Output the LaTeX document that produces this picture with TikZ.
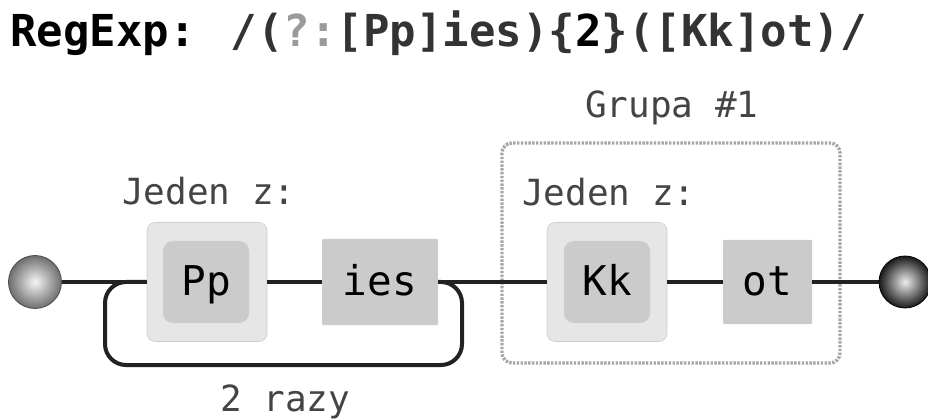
\documentclass[tikz,border=0pt]{standalone}
\usepackage{fontspec}
\newfontfamily\monofam{DejaVu Sans Mono}
\usetikzlibrary{shapes.geometric}
\definecolor{wire}{HTML}{222222}
\definecolor{labeltext}{HTML}{444444}
\definecolor{outerfill}{HTML}{E6E6E6}
\definecolor{innerfill}{HTML}{CBCBCB}
\definecolor{groupline}{HTML}{A6A6A6}
\definecolor{regdark}{HTML}{333333}
\definecolor{reglight}{HTML}{9A9A9A}
\definecolor{ballrim}{HTML}{6E6E6E}
\tikzset{
  wireline/.style={draw=wire, line width=4pt},
  outerbox/.style={rectangle, rounded corners=8pt, fill=outerfill, draw=outerfill!90!black, line width=0.6pt, minimum width=120pt, minimum height=119pt, inner sep=0pt},
  innerbox/.style={rectangle, rounded corners=10pt, fill=innerfill, minimum width=86pt, minimum height=82pt, inner sep=0pt, text height=28pt, text depth=0pt, font=\monofam\fontsize{41}{46}\selectfont, text=black},
  litbox/.style={rectangle, rounded corners=1pt, fill=innerfill, inner sep=0pt, text height=28pt, text depth=0pt, font=\monofam\fontsize{41}{46}\selectfont, text=black},
  labelnode/.style={anchor=base west, inner sep=0pt, font=\monofam\fontsize{36}{40}\selectfont, text=labeltext},
  ballstart/.style={circle, minimum size=53pt, inner sep=0pt, draw=gray!60!black, line width=0.8pt, inner color=gray!8, outer color=ballrim},
  ballend/.style={circle, minimum size=52pt, inner sep=0pt, draw=black, line width=0.8pt, inner color=gray!15, outer color=black!90},
}
\begin{document}
\begin{tikzpicture}[x=1pt, y=-1pt]
\useasboundingbox (0,0) rectangle (928,419);

% heading with the expression
\node[anchor=base west, inner sep=0pt, font=\monofam\bfseries\fontsize{44}{50}\selectfont] (title) at (10,47)
  {RegExp: \textcolor{regdark}{/(}\textcolor{reglight}{?:}\textcolor{regdark}{[Pp]ies)\{}2\textcolor{regdark}{\}([Kk]ot)/}};

% capture group frame
\draw[draw=groupline, line width=3.4pt, dash pattern=on 2.4pt off 1.4pt, rounded corners=10pt] (502,143) rectangle (840,363);
\node[labelnode] (grouplabel) at (585,118) {Grupa \#1};

% terminals
\node[ballstart] (start) at (35,282) {};
\node[ballend] (finish) at (905,282) {};

% first character class and literal
\node[outerbox] (ppo) at (207,282) {};
\node[innerbox] (ppi) at (206,282) {Pp};
\node[litbox, minimum width=116pt, minimum height=86pt] (ies) at (380,282) {ies};
\node[labelnode] (oneof1) at (122,205) {Jeden z:};

% second character class and literal
\node[outerbox] (kko) at (607,282) {};
\node[innerbox] (kki) at (607,282) {Kk};
\node[litbox, minimum width=89pt, minimum height=84pt] (ot) at (767.5,282) {ot};
\node[labelnode] (oneof2) at (522,206) {Jeden z:};

% main track
\draw[wireline] (start.east) -- (ppo.west);
\draw[wireline] (ppo.east) -- (ies.west);
\draw[wireline] (ies.east) -- (kko.west);
\draw[wireline] (kko.east) -- (ot.west);
\draw[wireline] (ot.east) -- (finish.west);

% repetition loop
\draw[wireline, rounded corners=21pt] (ies.east) -| (462,365) -| (105,282) -- (ppo.west);
\node[labelnode] (repeat) at (220,411) {2 razy};
\end{tikzpicture}
\end{document}
